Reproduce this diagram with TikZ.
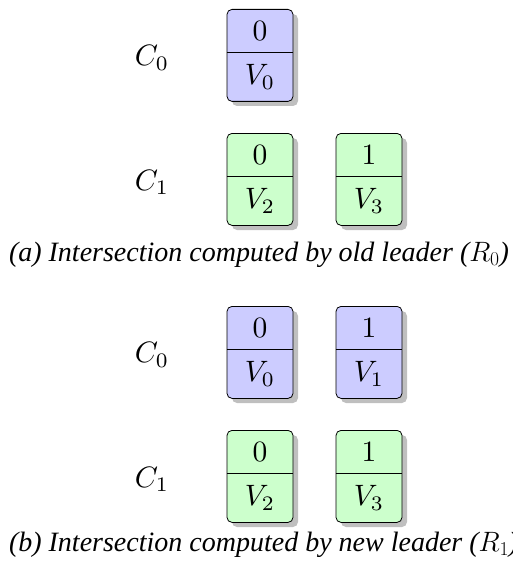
\RequirePackage{fix-cm}
\documentclass[tikz,border=0pt]{standalone}
\usepackage{fontspec}
\newfontfamily\capfont{Liberation Serif}
\newcommand\mbig[1]{\scalebox{2.95}{$#1$}}
\newcommand\cellbox[6]{%
  \fill[shadowgray, rounded corners=5pt] (#2-33+5,#3+5) rectangle (#2+33+5,#3+92+5);
  \node[cell, fill=#4, anchor=north] (#1) at (#2,#3) {};
  \draw[line width=0.8pt] ([yshift=-43pt]#1.north west) -- ([yshift=-43pt]#1.north east);
  \node[txt] (#1t) at (#2,#3+22) {\mbig{#5}};
  \node[txt] (#1b) at (#2,#3+68) {\mbig{#6}};
}
\begin{document}
\begin{tikzpicture}[x=1pt,y=-1pt,
  cell/.style={draw=black, line width=0.8pt, rounded corners=5pt, minimum width=66pt, minimum height=92pt, inner sep=0pt},
  txt/.style={inner sep=0pt},
  captext/.style={font=\capfont\itshape\fontsize{28}{32}\selectfont, inner sep=0pt}]
\colorlet{shadowgray}{black!25}
\colorlet{bluefill}{blue!20}
\colorlet{greenfill}{green!20}
\useasboundingbox (0,0) rectangle (513,567);
% (a)
\node[txt] (ac0) at (152,58) {\mbig{C_0}};
\cellbox{aa}{260}{9}{bluefill}{0}{V_0}
\node[txt] (ac1) at (152,182.5) {\mbig{C_1}};
\cellbox{ab}{260}{133}{greenfill}{0}{V_2}
\cellbox{ac}{369}{133}{greenfill}{1}{V_3}
\node[captext] (capa) at (259,255) {(a) Intersection computed by old leader ($R_0$)};
% (b)
\node[txt] (bc0) at (152,355) {\mbig{C_0}};
\cellbox{ba}{260}{306}{bluefill}{0}{V_0}
\cellbox{bb}{369}{306}{bluefill}{1}{V_1}
\node[txt] (bc1) at (152,479.5) {\mbig{C_1}};
\cellbox{bc}{260}{430}{greenfill}{0}{V_2}
\cellbox{bd}{369}{430}{greenfill}{1}{V_3}
\node[captext, anchor=west] (capb) at (capa.west |- 0,545) {(b) Intersection computed by new leader ($R_1$)};
\end{tikzpicture}
\end{document}
